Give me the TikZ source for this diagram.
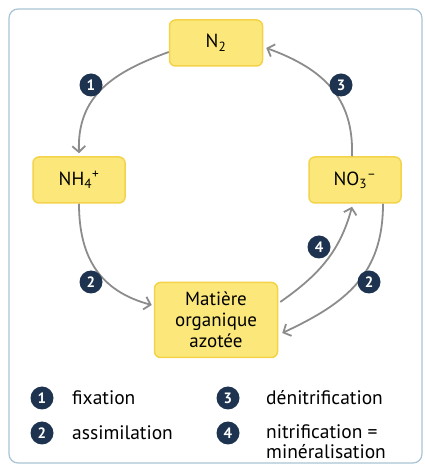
\documentclass[tikz,border=0pt]{standalone}
\usepackage{fontspec}
\setmainfont{PT Sans}
\usetikzlibrary{arrows.meta}
\definecolor{boxfill}{HTML}{FCE87A}
\definecolor{boxline}{HTML}{F4D34A}
\definecolor{arr}{HTML}{8C8C8C}
\definecolor{badge}{HTML}{1D3350}
\definecolor{framec}{HTML}{A8C3D3}
\begin{document}
\begin{tikzpicture}[x=1pt,y=1pt,
 box/.style={draw=boxline, fill=boxfill, line width=1.5pt, rounded corners=6pt, inner sep=0pt, font=\fontsize{19}{21}\selectfont, align=center},
 num/.style={circle, fill=badge, text=white, inner sep=0pt, minimum size=23pt, font=\fontsize{15}{15}\selectfont\bfseries},
 flow/.style={draw=arr, line width=1.8pt, -{Straight Barb[length=6pt,width=13pt]}},
 leg/.style={anchor=west, inner sep=0pt, font=\fontsize{19.5}{20}\selectfont, align=left}]
\useasboundingbox (0,0) rectangle (424,466);
\draw[framec, line width=1.2pt, rounded corners=9pt] (9,3) rectangle (422,457);

\node[box, minimum width=93pt, minimum height=46pt] (n2) at (216,423) {N\textsubscript{2}};
\node[box, minimum width=92pt, minimum height=46pt] (nh4) at (79,286) {NH\textsubscript{4}\textsuperscript{+}};
\node[box, minimum width=92pt, minimum height=46pt] (no3) at (355,286) {NO\textsubscript{3}\textsuperscript{–}};
\node[box, minimum width=123pt, minimum height=75pt] (mat) at (216,146) {Matière\\organique\\azotée};

\draw[flow] ([yshift=-9pt]n2.west) to[out=200,in=92,looseness=1.1] ([yshift=3pt]nh4.north);
\draw[flow] ([xshift=-3pt]no3.north) to[out=88,in=-20,looseness=1.1] ([xshift=3pt,yshift=-5pt]n2.east);
\draw[flow] (nh4.south) to[out=-90,in=165,looseness=1.1] ([xshift=-2pt,yshift=15pt]mat.west);
\draw[flow] ([xshift=2pt,yshift=18pt]mat.east) to[out=35,in=-105] ([xshift=-3pt,yshift=-3pt]no3.south);
\draw[flow] ([xshift=28pt]no3.south) to[out=-90,in=25,looseness=1.1] ([xshift=4pt,yshift=-13pt]mat.east);

\node[num] (b1) at (91,381) {1};
\node[num] (b3) at (341,381) {3};
\node[num] (b2l) at (91,184) {2};
\node[num] (b4) at (319,219) {4};
\node[num] (b2r) at (369,184) {2};

\node[num] (l1) at (42,68) {1};
\node[leg] (t1) at (72,68) {fixation};
\node[num] (l2) at (42,33) {2};
\node[leg] (t2) at (72,33) {assimilation};
\node[num] (l3) at (228,68) {3};
\node[leg] (t3) at (266,68) {dénitrification};
\node[num] (l4) at (228,33) {4};
\node[leg] (t4) at (266,24) {nitrification =\\minéralisation};
\end{tikzpicture}
\end{document}
